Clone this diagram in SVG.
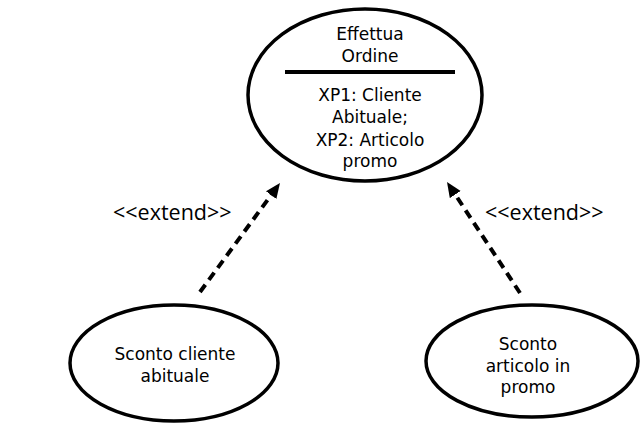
<svg xmlns="http://www.w3.org/2000/svg" width="644" height="438" viewBox="0 0 644 438">
<style>
.uc{fill:#fff;stroke:#000;stroke-width:3.5}
.t{font-family:"DejaVu Sans",sans-serif;font-size:17px;fill:#000;text-anchor:middle}
.lbl{font-family:"Open Sans",sans-serif;font-size:21.5px;fill:#000}
.dep{fill:none;stroke:#000;stroke-width:4;stroke-dasharray:9 6}
</style>
<defs>
<marker id="ah" markerUnits="userSpaceOnUse" markerWidth="16" markerHeight="14" refX="1" refY="6.5" orient="auto">
<path d="M0,0 L15,6.5 L0,13 z" fill="#000"/>
</marker>
</defs>
<rect width="644" height="438" fill="#fff"/>
<g id="effettua-ordine">
<ellipse class="uc" cx="365" cy="95" rx="117" ry="86"/>
<line x1="285" y1="72" x2="455" y2="72" stroke="#000" stroke-width="4"/>
<text class="t" x="370" y="40">Effettua</text>
<text class="t" x="370" y="62">Ordine</text>
<text class="t" x="370" y="101">XP1: Cliente</text>
<text class="t" x="370" y="123">Abituale;</text>
<text class="t" x="370" y="146">XP2: Articolo</text>
<text class="t" x="370" y="167">promo</text>
</g>
<g id="sconto-cliente">
<ellipse class="uc" cx="174" cy="363" rx="104" ry="58"/>
<text class="t" x="175" y="360">Sconto cliente</text>
<text class="t" x="175" y="382">abituale</text>
</g>
<g id="sconto-articolo">
<ellipse class="uc" cx="532" cy="361" rx="106" ry="56"/>
<text class="t" x="528" y="350">Sconto</text>
<text class="t" x="528" y="372">articolo in</text>
<text class="t" x="528" y="393">promo</text>
</g>
<g id="connectors">
<line class="dep" x1="200" y1="292" x2="271.7" y2="194.3" marker-end="url(#ah)"/>
<line class="dep" x1="520" y1="293" x2="454.7" y2="193.7" marker-end="url(#ah)"/>
<text class="lbl" x="113" y="220">&lt;&lt;extend&gt;&gt;</text>
<text class="lbl" x="485" y="220">&lt;&lt;extend&gt;&gt;</text>
</g>
</svg>
